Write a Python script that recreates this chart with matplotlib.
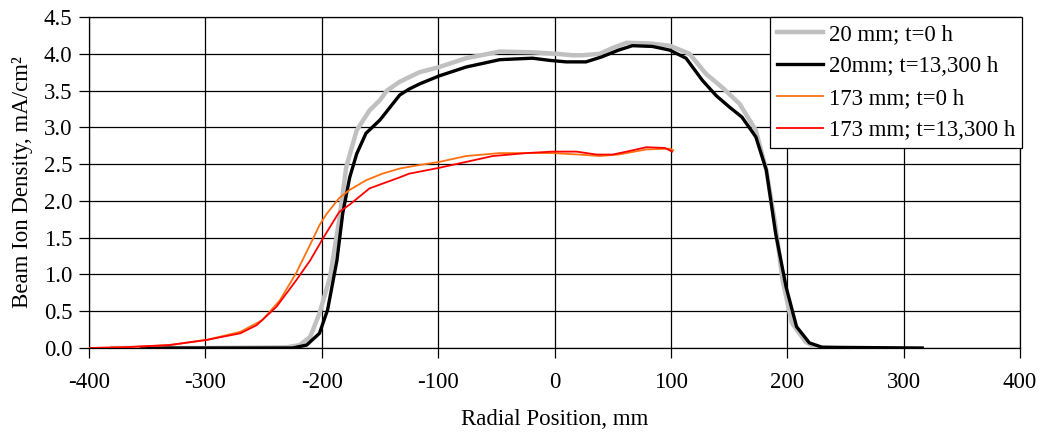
import matplotlib
matplotlib.use("Agg")
import matplotlib.pyplot as plt

# 20 mm, t=0 h
gray_x = [-380, -300, -230, -219, -210, -202, -193, -185, -179, -170, -159, -150, -144, -133, -116,
          -99, -76, -47, -19, 2, 15, 24, 39, 50, 62, 82, 99, 116, 130, 145, 159, 173, 182,
          190, 196, 204, 216, 225, 240]
gray_y = [0, 0, 0.01, 0.04, 0.15, 0.47, 0.96, 1.74, 2.46, 2.96, 3.23, 3.37, 3.50, 3.62, 3.75,
          3.82, 3.94, 4.03, 4.02, 4.00, 3.98, 3.98, 4.00, 4.08, 4.15, 4.14, 4.11, 4.00, 3.73, 3.53, 3.32, 2.96, 2.42,
          1.65, 0.92, 0.34, 0.08, 0.01, 0]

# 20 mm, t=13,300 h
black_x = [-355, -300, -225, -213, -202, -195, -187, -182, -176, -170, -162, -150, -139, -133, -125,
           -116, -99, -76, -47, -19, -4, 10, 27, 41, 55, 67, 84, 99, 113, 127, 139, 150, 161,
           173, 182, 190, 199, 208, 219, 230, 316]
black_y = [0, 0, 0.0, 0.04, 0.20, 0.52, 1.19, 1.83, 2.32, 2.64, 2.92, 3.10, 3.32, 3.44, 3.52,
           3.59, 3.70, 3.82, 3.92, 3.94, 3.91, 3.89, 3.89, 3.96, 4.05, 4.11, 4.10, 4.05, 3.94, 3.64, 3.43, 3.28, 3.14,
           2.87, 2.42, 1.56, 0.83, 0.29, 0.07, 0.01, 0]

# 173 mm, t=0 h
orange_x = [-400, -370, -331, -299, -270, -251, -236, -222, -208, -202, -196, -185, -176, -162, -148,
            -133, -119, -99, -76, -47, -20, -2, 21, 39, 55, 79, 99, 102]
orange_y = [0, 0.01, 0.04, 0.11, 0.22, 0.38, 0.65, 1.02, 1.47, 1.67, 1.82, 2.04, 2.15, 2.28, 2.37,
            2.44, 2.48, 2.53, 2.61, 2.65, 2.65, 2.65, 2.63, 2.61, 2.63, 2.70, 2.71, 2.69]

# 173 mm, t=13,300 h
red_x = [-400, -370, -331, -299, -270, -256, -239, -222, -210, -199, -185, -176, -159, -133,
         -125, -99, -76, -53, -24, -2, 19, 36, 50, 62, 79, 95, 101]
red_y = [0, 0.01, 0.04, 0.11, 0.20, 0.31, 0.56, 0.92, 1.19, 1.49, 1.85, 1.95, 2.17, 2.32,
         2.37, 2.45, 2.53, 2.61, 2.65, 2.67, 2.67, 2.63, 2.63, 2.67, 2.73, 2.72, 2.67]

labels = ["20 mm; t=0 h", "20mm; t=13,300 h", "173 mm; t=0 h", "173 mm; t=13,300 h"]
x_ticks = [-400, -300, -200, -100, 0, 100, 200, 300, 400]
y_ticks = [0.0, 0.5, 1.0, 1.5, 2.0, 2.5, 3.0, 3.5, 4.0, 4.5]

plt.rcParams['font.family'] = ['Liberation Serif', 'DejaVu Serif']
plt.rcParams['axes.unicode_minus'] = False
fs = 16.5

fig = plt.figure(figsize=(10.44, 4.36), dpi=100)
ax = fig.add_axes([0.0853, 0.2018, 0.977 - 0.0853, 0.961 - 0.2018])

ax.plot(gray_x, gray_y, color='#c0c0c0', lw=3.2, label=labels[0], zorder=3)
ax.plot(black_x, black_y, color='black', lw=2.4, label=labels[1], zorder=4)
ax.plot(orange_x, orange_y, color='#ff7010', lw=1.3, label=labels[2], zorder=5)
ax.plot(red_x, red_y, color='#ff0000', lw=1.3, label=labels[3], zorder=6)

ax.set_xlim(-400, 400)
ax.set_ylim(0, 4.5)
ax.set_xticks(x_ticks)
ax.set_yticks(y_ticks)
ax.set_xticklabels([str(t) for t in x_ticks])
ax.set_yticklabels(["%.1f" % t for t in y_ticks])
ax.grid(True, color='black', lw=0.9)
ax.set_axisbelow(True)
for s in ax.spines.values():
    s.set_linewidth(0.9)
ax.tick_params(direction='out', length=7, width=0.9, labelsize=fs)
ax.tick_params(axis='x', pad=10)
ax.tick_params(axis='y', pad=5)

ax.set_xlabel("Radial Position, mm", fontsize=fs, labelpad=12)
ax.set_ylabel("Beam Ion Density, mA/cm²", fontsize=fs, labelpad=8)

leg = ax.legend(loc='upper right', bbox_to_anchor=(1.002, 1.0), fontsize=fs,
                frameon=True, fancybox=False, edgecolor='black', framealpha=1,
                borderaxespad=0, handlelength=2.0, handletextpad=0.25,
                labelspacing=0.48, borderpad=0.3)
leg.get_frame().set_linewidth(0.9)
leg.set_zorder(10)

fig.savefig("out.png", dpi=100)
